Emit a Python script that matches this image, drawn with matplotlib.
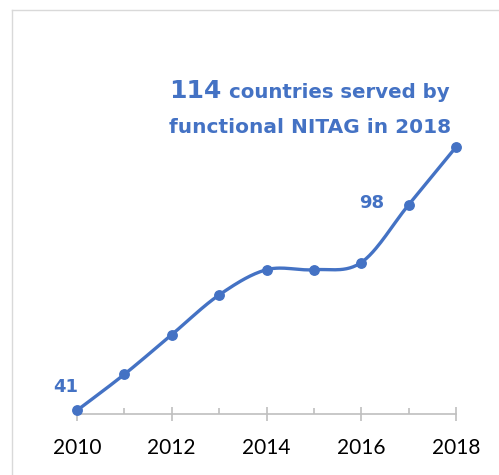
import numpy as np
import matplotlib
matplotlib.use("Agg")
import matplotlib.pyplot as plt
from matplotlib.lines import Line2D
from matplotlib.ticker import MultipleLocator

years = [2010, 2011, 2012, 2013, 2014, 2015, 2016, 2017, 2018]
countries = [41, 51, 62, 73, 80, 80, 82, 98, 114]
tick_years = [2010, 2012, 2014, 2016, 2018]
labelled = {2010: "41", 2017: "98"}
headline_number = "114"
headline_rest = "countries served by"
headline_line2 = "functional NITAG in 2018"

BLUE = "#4472C4"
TICK_FONT = "Lato"
LABEL_FONT = "DejaVu Sans"
W, H = 499, 475


def smooth_curve(x, y, steps=30):
    """Cubic Bezier smoothing through every point (Catmull-Rom style)."""
    x = np.asarray(x, float)
    y = np.asarray(y, float)
    px = np.concatenate([[x[0]], x, [x[-1]]])
    py = np.concatenate([[y[0]], y, [y[-1]]])
    xs, ys = [], []
    t = np.linspace(0, 1, steps)
    for i in range(1, len(px) - 2):
        p0 = np.array([px[i], py[i]])
        p3 = np.array([px[i + 1], py[i + 1]])
        p1 = p0 + (np.array([px[i + 1], py[i + 1]]) - np.array([px[i - 1], py[i - 1]])) / 6
        p2 = p3 - (np.array([px[i + 2], py[i + 2]]) - np.array([px[i], py[i]])) / 6
        b = ((1 - t) ** 3)[:, None] * p0 + (3 * (1 - t) ** 2 * t)[:, None] * p1 \
            + (3 * (1 - t) * t ** 2)[:, None] * p2 + (t ** 3)[:, None] * p3
        xs.append(b[:, 0])
        ys.append(b[:, 1])
    return np.concatenate(xs), np.concatenate(ys)


fig = plt.figure(figsize=(W / 100, H / 100), dpi=100)
fig.patch.set_facecolor("white")

# light frame around the chart area
fig.add_artist(Line2D([12 / W, 12 / W], [0, 1 - 10 / H], color="#d9d9d9", lw=1.0))
fig.add_artist(Line2D([12 / W, 1], [1 - 10 / H, 1 - 10 / H], color="#d9d9d9", lw=1.0))

left, right = 77 / W, 456 / W
bottom = (H - 414) / H
ymin, ymax = 40, 120
px_per_unit = 3.607
top = bottom + (ymax - ymin) * px_per_unit / H
ax = fig.add_axes([left, bottom, right - left, top - bottom])

sx, sy = smooth_curve(years, countries)
ax.plot(sx, sy, color=BLUE, lw=2.4, solid_capstyle="round", zorder=3, clip_on=False)
ax.plot(years, countries, "o", color=BLUE, ms=6.8, zorder=4, clip_on=False)

ax.set_xlim(years[0], years[-1])
ax.set_ylim(ymin, ymax)

for s in ["left", "right", "top"]:
    ax.spines[s].set_visible(False)
ax.spines["bottom"].set_color("#bfbfbf")
ax.spines["bottom"].set_linewidth(1.2)
ax.set_yticks([])

ax.set_xticks(tick_years)
ax.set_xticklabels([str(y) for y in tick_years], fontsize=15, family=TICK_FONT, color="#000000")
ax.xaxis.set_minor_locator(MultipleLocator(1))
ax.tick_params(axis="x", which="major", direction="inout", length=10, width=1.2,
               color="#bfbfbf", pad=12)
ax.tick_params(axis="x", which="minor", direction="in", length=4.5, width=1.2,
               color="#bfbfbf")

offsets = {2010: (-11, 18), 2017: (-37, -3)}
for yr, txt in labelled.items():
    v = countries[years.index(yr)]
    ax.annotate(txt, (yr, v), xytext=offsets[yr],
                textcoords="offset pixels", ha="center", va="baseline",
                fontsize=13, fontweight="bold", color=BLUE, family=LABEL_FONT)

fig.text(222 / W, 1 - 98 / H, headline_number, ha="right", va="baseline",
         fontsize=18, fontweight="bold", color=BLUE, family=LABEL_FONT)
fig.text(229 / W, 1 - 98 / H, headline_rest, ha="left", va="baseline",
         fontsize=14.2, fontweight="bold", color=BLUE, family=LABEL_FONT)
fig.text(310 / W, 1 - 133 / H, headline_line2, ha="center", va="baseline",
         fontsize=14.5, fontweight="bold", color=BLUE, family=LABEL_FONT)

fig.savefig("out.png", dpi=100, facecolor="white")
